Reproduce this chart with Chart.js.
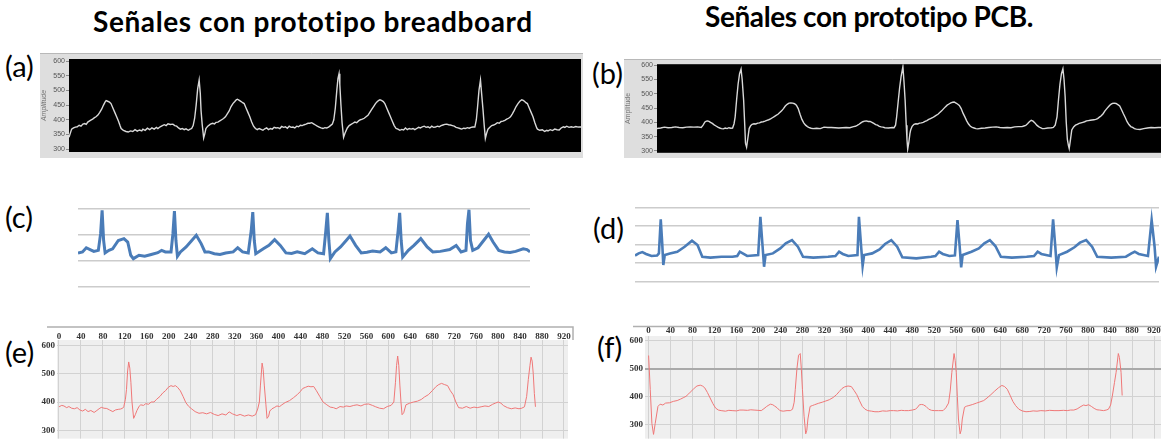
<!DOCTYPE html>
<html lang="es">
<head>
<meta charset="utf-8">
<title>Señales con prototipo breadboard y PCB</title>
<script src="https://cdn.jsdelivr.net/npm/chart.js@4.4.1/dist/chart.umd.min.js"></script>
<style>
  html, body { margin: 0; padding: 0; background: #fff; }
  body { width: 1161px; height: 446px; position: relative; overflow: hidden; font-family: Lato, 'Liberation Sans', sans-serif; }
  .title { position: absolute; font-weight: 700; font-size: 28px; line-height: 32px; white-space: nowrap; color: #000; }
  .tag { position: absolute; font-size: 29px; line-height: 32px; color: #000; }
  .panel { position: absolute; }
</style>
</head>
<body>
<div class="title" style="left:93px; top:5px; letter-spacing:0.6px">Señales con prototipo breadboard</div>
<div class="title" style="left:705px; top:0px; letter-spacing:-0.4px">Señales con prototipo PCB.</div>
<div class="tag" style="left:5px; top:50px">(a)</div>
<div class="tag" style="left:592px; top:57px">(b)</div>
<div class="tag" style="left:5px; top:201px">(c)</div>
<div class="tag" style="left:593px; top:212px">(d)</div>
<div class="tag" style="left:5px; top:336px">(e)</div>
<div class="tag" style="left:597px; top:331px">(f)</div>

<div class="panel" style="left:40px; top:53px; width:543px; height:105px"><canvas id="chartA"></canvas></div>
<div class="panel" style="left:624px; top:59px; width:537px; height:99px"><canvas id="chartB"></canvas></div>
<div class="panel" style="left:78px; top:203px; width:452px; height:90px"><canvas id="chartC"></canvas></div>
<div class="panel" style="left:635px; top:202px; width:524px; height:86px"><canvas id="chartD"></canvas></div>
<div class="panel" style="left:34px; top:324px; width:541px; height:122px"><canvas id="chartE"></canvas></div>
<div class="panel" style="left:626px; top:323px; width:535px; height:123px"><canvas id="chartF"></canvas></div>

<script>
// ── Datos ──
// (a) breadboard, LabVIEW: muestra vs amplitud
const aTime = [0, 4, 7, 12, 17, 22, 27, 32, 37, 42, 46, 50, 57, 63, 68, 72, 77, 82, 87, 92, 96, 99, 103, 108, 112, 117, 122, 127, 132, 136, 139, 145, 152, 158, 164, 170, 176, 182, 188, 194, 197, 203, 209, 215, 221, 227, 233, 237, 243, 249, 254, 259, 264, 270, 277, 282, 287, 292, 297, 302, 307, 312, 318, 323, 327, 331, 335, 339, 343, 347, 350, 352, 355, 359, 362, 365, 370, 377, 383, 388, 392, 397, 402, 407, 412, 417, 422, 427, 432, 437, 442, 446, 449, 454, 459, 463, 467, 472, 477, 482, 487, 492, 497, 502, 507, 512, 517, 522, 527, 532, 537, 542, 547, 552, 557, 562, 567, 572, 577, 582, 587, 592, 597, 602, 607, 612, 617, 622, 627, 632, 637, 642, 647, 652, 657, 662, 667, 672, 677, 682, 687, 692, 697, 702, 706, 710, 714, 717, 720, 722, 725, 728, 732, 736, 742, 747, 752, 757, 762, 767, 772, 777, 782, 787, 792, 797, 802, 807, 812, 817, 822, 826, 829, 833, 838, 842, 847, 852, 857, 862, 867, 872, 877, 882, 887, 892, 897, 902, 907, 912, 917, 922, 927, 932, 937, 942, 947, 952, 957, 962, 967, 972, 977, 982, 987, 992, 997, 1002, 1007, 1012, 1017, 1022, 1027, 1032, 1037, 1042, 1047, 1052, 1057, 1062, 1067, 1072, 1077, 1082, 1086, 1089, 1093, 1097, 1100, 1104, 1107, 1110, 1113, 1117, 1122, 1127, 1132, 1137, 1142, 1147, 1152, 1157, 1162, 1167, 1172, 1177, 1182, 1187, 1192, 1197, 1202, 1207, 1211, 1215, 1218, 1222, 1227, 1232, 1237, 1242, 1247, 1249, 1255, 1262, 1268, 1274, 1277, 1283, 1289, 1295, 1301, 1307, 1312, 1318, 1322, 1327, 1333, 1339, 1345, 1351, 1358, 1365];
const aAmp = [340, 356, 368, 372, 375, 376, 381, 378, 385, 387, 384, 392, 398, 402, 407, 410, 416, 425, 436, 450, 460, 465, 463, 460, 455, 440, 425, 410, 395, 380, 370, 364, 360, 358, 362, 360, 366, 361, 365, 362, 368, 364, 371, 366, 372, 368, 374, 370, 376, 380, 383, 380, 386, 384, 385, 380, 378, 372, 368, 370, 366, 369, 364, 368, 370, 380, 405, 450, 505, 535, 490, 432, 385, 338, 352, 370, 378, 385, 388, 386, 391, 392, 396, 400, 404, 410, 420, 430, 445, 455, 462, 468, 470, 466, 462, 458, 455, 440, 425, 410, 392, 378, 370, 366, 370, 367, 364, 369, 372, 366, 370, 368, 374, 372, 373, 370, 377, 374, 376, 371, 378, 374, 375, 372, 378, 376, 381, 380, 383, 385, 388, 388, 390, 386, 382, 378, 375, 372, 370, 373, 372, 375, 380, 385, 400, 440, 500, 540, 557, 520, 450, 390, 340, 355, 372, 380, 384, 388, 392, 390, 396, 400, 402, 405, 410, 415, 425, 435, 445, 455, 462, 466, 468, 466, 462, 455, 440, 425, 410, 395, 380, 370, 368, 364, 367, 365, 372, 366, 370, 368, 370, 366, 370, 374, 372, 376, 378, 374, 376, 372, 378, 374, 375, 378, 376, 380, 382, 384, 385, 383, 382, 380, 378, 374, 372, 370, 368, 371, 370, 373, 371, 374, 375, 375, 400, 440, 500, 535, 490, 430, 380, 336, 352, 368, 374, 380, 382, 385, 390, 388, 394, 395, 398, 402, 405, 410, 420, 432, 445, 455, 463, 468, 466, 462, 458, 455, 440, 425, 410, 390, 372, 368, 364, 366, 360, 364, 362, 366, 363, 368, 366, 365, 372, 376, 374, 378, 374, 376, 374, 377, 375, 375];

// (b) PCB, LabVIEW
const bTime = [0, 10, 20, 30, 40, 50, 60, 70, 80, 90, 100, 110, 120, 125, 130, 134, 137, 141, 145, 150, 155, 160, 165, 170, 175, 180, 185, 190, 195, 200, 205, 209, 212, 216, 220, 224, 228, 231, 235, 238, 240, 243, 246, 250, 254, 258, 263, 268, 273, 278, 283, 288, 293, 298, 303, 308, 313, 318, 323, 328, 333, 338, 343, 348, 353, 358, 363, 368, 373, 378, 383, 388, 393, 398, 403, 408, 413, 418, 423, 433, 443, 453, 463, 473, 483, 493, 503, 513, 523, 533, 538, 543, 548, 553, 558, 563, 568, 573, 578, 583, 588, 593, 598, 603, 608, 613, 618, 628, 638, 643, 647, 650, 654, 658, 662, 667, 670, 673, 676, 678, 680, 683, 686, 688, 692, 697, 702, 707, 712, 717, 722, 727, 732, 737, 742, 747, 752, 757, 762, 767, 772, 777, 782, 787, 792, 797, 802, 806, 810, 815, 820, 825, 830, 835, 840, 845, 850, 855, 860, 865, 870, 880, 890, 900, 910, 920, 930, 940, 950, 960, 970, 980, 990, 995, 1000, 1005, 1010, 1015, 1020, 1025, 1030, 1035, 1040, 1045, 1050, 1060, 1070, 1075, 1080, 1085, 1089, 1093, 1097, 1101, 1104, 1107, 1110, 1113, 1116, 1118, 1121, 1125, 1130, 1135, 1140, 1145, 1150, 1155, 1160, 1165, 1170, 1175, 1180, 1185, 1190, 1195, 1200, 1205, 1210, 1215, 1220, 1225, 1230, 1235, 1240, 1245, 1250, 1255, 1260, 1265, 1270, 1275, 1280, 1285, 1290, 1295, 1300, 1310, 1320, 1330, 1340, 1350, 1360, 1367];
const bAmp = [378, 380, 383, 381, 382, 384, 382, 381, 383, 384, 383, 384, 382, 390, 401, 404, 405, 403, 400, 396, 391, 387, 383, 380, 378, 377, 380, 378, 381, 379, 380, 395, 419, 480, 534, 570, 586, 550, 477, 390, 327, 313, 340, 378, 388, 393, 395, 394, 397, 398, 401, 402, 404, 407, 409, 412, 416, 420, 424, 428, 434, 440, 448, 457, 463, 467, 468, 467, 465, 460, 448, 428, 410, 398, 390, 385, 381, 379, 378, 379, 378, 383, 382, 382, 381, 380, 381, 382, 381, 385, 386, 389, 393, 398, 402, 404, 405, 403, 403, 400, 396, 392, 390, 386, 384, 383, 381, 380, 382, 381, 390, 419, 470, 520, 560, 595, 540, 477, 390, 340, 306, 330, 360, 373, 386, 393, 395, 394, 397, 398, 400, 403, 406, 410, 413, 416, 420, 424, 428, 434, 440, 447, 454, 460, 464, 468, 470, 471, 468, 464, 459, 448, 432, 419, 405, 394, 386, 382, 380, 378, 377, 379, 380, 382, 383, 384, 382, 381, 382, 381, 384, 385, 385, 387, 389, 395, 402, 407, 404, 398, 390, 385, 381, 378, 378, 380, 381, 382, 390, 419, 480, 534, 570, 587, 550, 490, 400, 340, 318, 308, 335, 373, 384, 390, 393, 396, 398, 400, 402, 405, 406, 407, 408, 409, 410, 413, 418, 423, 430, 440, 448, 455, 462, 466, 467, 466, 462, 457, 444, 430, 417, 402, 392, 385, 382, 378, 376, 375, 378, 380, 382, 381, 382, 382];

// (c) breadboard, Excel: nivel relativo a la rejilla
const cTime = [0, 12, 22, 32, 42, 54, 60, 64, 68, 72, 82, 92, 107, 122, 132, 140, 147, 162, 177, 192, 212, 222, 232, 247, 252, 256, 260, 264, 272, 287, 302, 314, 327, 337, 347, 362, 377, 392, 412, 424, 437, 452, 460, 464, 468, 472, 492, 507, 522, 537, 552, 567, 582, 602, 622, 637, 652, 658, 662, 666, 670, 682, 697, 712, 722, 737, 752, 767, 782, 802, 817, 832, 844, 850, 854, 858, 862, 877, 892, 910, 927, 942, 962, 987, 1004, 1017, 1030, 1034, 1038, 1042, 1048, 1062, 1077, 1090, 1102, 1117, 1132, 1147, 1162, 1182, 1192, 1200];
const cLevel = [1.31, 1.35, 1.51, 1.44, 1.37, 1.41, 2.05, 2.95, 1.79, 1.31, 1.41, 1.47, 1.79, 1.86, 1.73, 1.22, 1.09, 1.22, 1.18, 1.24, 1.32, 1.41, 1.35, 1.35, 2.05, 2.92, 1.79, 1.18, 1.35, 1.54, 1.79, 1.99, 1.67, 1.35, 1.35, 1.28, 1.25, 1.31, 1.35, 1.51, 1.35, 1.31, 2.18, 2.88, 1.79, 1.28, 1.47, 1.60, 1.82, 1.60, 1.31, 1.29, 1.35, 1.28, 1.47, 1.31, 1.28, 2.18, 2.85, 1.79, 1.09, 1.35, 1.54, 1.79, 1.96, 1.60, 1.31, 1.34, 1.38, 1.35, 1.51, 1.31, 1.35, 2.18, 2.85, 1.79, 1.15, 1.41, 1.60, 1.86, 1.54, 1.35, 1.37, 1.44, 1.60, 1.35, 1.41, 2.44, 2.97, 1.79, 1.41, 1.51, 1.79, 2.03, 1.73, 1.41, 1.35, 1.33, 1.37, 1.47, 1.44, 1.35];

// (d) PCB, Excel
const dTime = [0, 10, 20, 30, 45, 60, 65, 70, 74, 77, 81, 95, 115, 135, 155, 170, 183, 205, 235, 265, 278, 285, 293, 305, 335, 341, 347, 351, 355, 375, 395, 410, 427, 443, 457, 485, 525, 545, 555, 565, 580, 605, 609, 615, 619, 623, 645, 665, 680, 697, 713, 727, 765, 805, 817, 827, 837, 855, 870, 877, 883, 887, 891, 915, 935, 950, 965, 980, 995, 1025, 1065, 1085, 1095, 1105, 1130, 1137, 1143, 1147, 1153, 1175, 1195, 1210, 1227, 1243, 1257, 1295, 1335, 1350, 1359, 1370, 1395, 1405, 1413, 1417, 1425];
const dLevel = [1.41, 1.53, 1.60, 1.50, 1.39, 1.41, 1.53, 3.37, 2.07, 0.90, 1.44, 1.53, 1.62, 1.89, 2.22, 1.98, 1.35, 1.30, 1.35, 1.35, 1.39, 1.62, 1.53, 1.39, 1.44, 3.51, 1.89, 0.81, 1.44, 1.53, 1.80, 2.07, 2.25, 1.89, 1.35, 1.30, 1.35, 1.39, 1.62, 1.50, 1.39, 1.44, 3.51, 1.89, 0.85, 1.44, 1.53, 1.75, 2.04, 2.25, 1.89, 1.32, 1.26, 1.35, 1.39, 1.62, 1.50, 1.39, 1.42, 3.33, 1.89, 0.77, 1.44, 1.62, 1.80, 2.07, 2.25, 1.93, 1.35, 1.30, 1.35, 1.39, 1.62, 1.50, 1.39, 3.37, 1.89, 0.77, 1.44, 1.62, 1.86, 2.11, 2.25, 1.89, 1.35, 1.30, 1.35, 1.53, 1.62, 1.50, 1.39, 3.33, 1.89, 0.81, 1.35];

// (e) breadboard, osciloscopio software
const eTime = [0, 5, 9, 14, 18, 23, 28, 33, 38, 43, 48, 53, 58, 64, 69, 73, 77, 82, 87, 92, 98, 103, 108, 112, 116, 118, 121, 123, 125, 127, 129, 131, 133, 136, 139, 142, 146, 149, 154, 158, 163, 168, 173, 178, 184, 189, 194, 199, 204, 208, 212, 216, 221, 226, 231, 236, 242, 248, 255, 262, 269, 276, 283, 290, 297, 304, 310, 316, 324, 330, 338, 345, 352, 358, 362, 365, 367, 370, 372, 374, 377, 379, 382, 384, 388, 392, 397, 402, 406, 412, 420, 427, 434, 440, 444, 449, 454, 459, 464, 469, 475, 481, 488, 494, 500, 505, 512, 518, 523, 530, 537, 543, 550, 557, 564, 571, 577, 584, 591, 598, 605, 610, 613, 615, 617, 619, 621, 623, 625, 628, 632, 639, 646, 653, 660, 666, 673, 680, 687, 692, 697, 702, 708, 713, 718, 723, 728, 735, 742, 749, 756, 762, 769, 776, 783, 790, 795, 800, 805, 810, 817, 824, 831, 838, 843, 848, 852, 855, 858, 860, 862, 864, 866, 868];
const eVal = [383, 388, 386, 380, 384, 378, 376, 380, 372, 368, 374, 366, 370, 363, 370, 376, 381, 378, 377, 372, 366, 372, 374, 375, 378, 383, 410, 445, 510, 542, 520, 470, 400, 342, 355, 370, 385, 390, 388, 394, 392, 400, 400, 410, 420, 432, 440, 452, 458, 455, 458, 452, 440, 420, 398, 385, 375, 366, 360, 362, 358, 363, 356, 352, 358, 354, 365, 358, 352, 356, 350, 354, 350, 355, 375, 400, 460, 538, 515, 460, 390, 342, 350, 368, 376, 380, 386, 384, 390, 398, 405, 415, 426, 438, 448, 452, 456, 454, 455, 440, 420, 400, 390, 382, 380, 376, 384, 382, 386, 384, 388, 390, 386, 392, 393, 388, 383, 378, 376, 384, 388, 400, 470, 530, 563, 530, 460, 400, 355, 362, 390, 396, 400, 403, 409, 418, 426, 440, 455, 462, 466, 462, 458, 440, 426, 400, 380, 378, 384, 378, 382, 380, 383, 386, 384, 392, 396, 400, 396, 387, 380, 376, 379, 376, 378, 383, 420, 480, 530, 559, 545, 500, 430, 383];

// (f) PCB, osciloscopio software
const fTime = [0, 3, 6, 9, 12, 17, 21, 26, 31, 38, 45, 52, 58, 63, 68, 73, 78, 83, 88, 94, 98, 102, 107, 112, 117, 122, 127, 132, 140, 146, 152, 160, 166, 172, 180, 186, 192, 199, 205, 210, 215, 219, 222, 226, 229, 234, 239, 245, 252, 258, 262, 265, 267, 270, 273, 276, 278, 280, 283, 286, 288, 290, 294, 298, 302, 309, 316, 322, 329, 336, 342, 347, 352, 357, 363, 369, 374, 379, 384, 389, 394, 399, 406, 412, 419, 426, 433, 440, 446, 453, 460, 466, 473, 480, 486, 490, 493, 497, 500, 505, 510, 515, 520, 528, 536, 541, 546, 549, 552, 556, 558, 560, 562, 564, 567, 569, 571, 575, 579, 583, 590, 597, 603, 610, 616, 623, 630, 637, 643, 648, 653, 658, 663, 668, 674, 680, 687, 694, 700, 707, 714, 722, 730, 738, 747, 755, 762, 768, 774, 780, 787, 792, 796, 801, 806, 811, 816, 821, 828, 833, 837, 841, 844, 848, 851, 855, 857, 860, 862];
const fVal = [547, 426, 304, 265, 304, 365, 373, 370, 377, 378, 383, 386, 391, 396, 401, 410, 420, 430, 438, 441, 438, 432, 415, 395, 375, 359, 352, 350, 348, 351, 350, 349, 352, 352, 351, 353, 352, 351, 350, 357, 365, 370, 373, 371, 367, 360, 350, 348, 350, 350, 355, 380, 426, 500, 548, 554, 500, 426, 330, 267, 280, 320, 365, 368, 371, 376, 380, 384, 389, 397, 407, 418, 429, 435, 438, 436, 422, 407, 385, 365, 355, 350, 348, 346, 346, 349, 348, 350, 350, 349, 351, 350, 350, 352, 355, 363, 371, 372, 371, 365, 355, 351, 350, 350, 350, 360, 377, 420, 487, 554, 530, 487, 400, 320, 267, 280, 320, 362, 366, 368, 372, 377, 381, 386, 395, 407, 420, 432, 440, 436, 426, 405, 383, 368, 355, 349, 346, 347, 349, 348, 350, 349, 351, 350, 350, 351, 350, 352, 352, 356, 365, 370, 368, 371, 365, 358, 353, 352, 350, 352, 355, 370, 401, 450, 487, 554, 540, 487, 404];

// Marcas de los ejes
const ampTicks = [300, 350, 400, 450, 500, 550, 600];
const levelsC = [0, 1, 2, 3];
const levelsD = [0, 1, 2, 3, 4];
const sampleTicks = [0, 40, 80, 120, 160, 200, 240, 280, 320, 360, 400, 440, 480, 520, 560, 600, 640, 680, 720, 760, 800, 840, 880, 920];
const valueTicks = [300, 400, 500, 600];

// ── Fondo / marco de cada panel ──
const panelBg = {
    id: 'panelBg',
    beforeDraw(chart, args, opts) {
        const { ctx, chartArea: a, width, height } = chart;
        ctx.save();
        if (opts.outer) { ctx.fillStyle = opts.outer; ctx.fillRect(0, 0, width, height); }
        if (opts.inner) { ctx.fillStyle = opts.inner; ctx.fillRect(a.left, a.top, a.right - a.left, a.bottom - a.top); }
        if (opts.frame) {
            const f = opts.frame;
            ctx.strokeStyle = f.color; ctx.lineWidth = f.width;
            ctx.beginPath();
            ctx.moveTo(f.x0, f.y); ctx.lineTo(f.x1, f.y);
            if (f.drop) ctx.lineTo(f.x1, f.y + f.drop);
            ctx.stroke();
        }
        ctx.restore();
    }
};
Chart.register(panelBg);

const pts = (xs, ys) => xs.map((x, i) => ({ x, y: ys[i] }));
const fixTicks = (list) => (s) => { s.ticks = list.map(v => ({ value: v })); };

function makeChart(id, cfg) {
    return new Chart(document.getElementById(id), {
        type: 'line',
        data: { datasets: [{ data: cfg.data, borderColor: cfg.color, borderWidth: cfg.lineWidth, pointRadius: 0, tension: 0 }] },
        options: {
            responsive: true, maintainAspectRatio: false, animation: false, events: [],
            layout: { padding: cfg.padding },
            plugins: { legend: { display: false }, tooltip: { enabled: false }, panelBg: cfg.bg },
            scales: { x: cfg.x, y: cfg.y },
        },
    });
}

// ── LabVIEW (a, b) ──
function labviewY(width, min, max, italic) {
    return {
        type: 'linear', min, max,
        afterBuildTicks: fixTicks(ampTicks),
        afterFit: (s) => { s.width = width; },
        ticks: { color: '#555', font: { family: 'Liberation Sans', size: 7 }, padding: 1 },
        grid: { drawOnChartArea: false, tickLength: 3, color: '#8a8a8a' },
        border: { display: false },
        title: { display: true, text: 'Amplitude', color: '#777', padding: { top: 0, bottom: 2 },
                 font: { family: 'Liberation Sans', size: 7, style: italic ? 'italic' : 'normal' } },
    };
}

makeChart('chartA', {
    data: pts(aTime, aAmp), color: '#d8d8d8', lineWidth: 1.4,
    padding: { top: 6, right: 2, bottom: 6, left: 0 },
    bg: { outer: '#dedede', inner: '#000', frame: { x0: 0, x1: 543, y: 0.5, color: '#b8b8b8', width: 1 } },
    x: { type: 'linear', min: 0, max: 1365, display: false },
    y: labviewY(29, 290, 607, true),
});

makeChart('chartB', {
    data: pts(bTime, bAmp), color: '#d8d8d8', lineWidth: 1.4,
    padding: { top: 4, right: 0, bottom: 4, left: 0 },
    bg: { outer: '#dedede', inner: '#000', frame: { x0: 0, x1: 537, y: 0.5, color: '#b8b8b8', width: 1 } },
    x: { type: 'linear', min: 0, max: 1367, display: false },
    y: labviewY(33, 293.2, 603.4, false),
});

// ── Excel (c, d) ──
function excelY(levels, max) {
    return {
        type: 'linear', min: 0, max,
        afterBuildTicks: fixTicks(levels),
        afterFit: (s) => { s.width = 0; },
        ticks: { display: false },
        grid: { color: '#cccccc', lineWidth: 1.6, drawTicks: false },
        border: { display: false },
    };
}

makeChart('chartC', {
    data: pts(cTime, cLevel), color: '#4a7cb8', lineWidth: 3,
    padding: { top: 6, right: 0, bottom: 6, left: 0 },
    bg: {},
    x: { type: 'linear', min: 0, max: 1200, display: false },
    y: excelY(levelsC, 3),
});

makeChart('chartD', {
    data: pts(dTime, dLevel), color: '#4a7cb8', lineWidth: 2.6,
    padding: { top: 5.7, right: 0, bottom: 6.3, left: 0 },
    bg: {},
    x: { type: 'linear', min: 0, max: 1425, display: false },
    y: excelY(levelsD, 4),
});

// ── Osciloscopio (e, f) ──
const serif = { family: 'Liberation Serif', size: 9, weight: 'bold' };
function scopeX(height, min, max, pad) {
    return {
        type: 'linear', position: 'top', min, max,
        afterBuildTicks: fixTicks(sampleTicks),
        afterFit: (s) => { s.height = height; },
        ticks: { color: '#333', font: serif, padding: pad, maxRotation: 0, autoSkip: false },
        grid: { color: '#d2d2d2', drawTicks: false },
        border: { display: false },
    };
}
function scopeY(width, min, max, strong) {
    return {
        type: 'linear', min, max,
        afterBuildTicks: fixTicks(valueTicks),
        afterFit: (s) => { s.width = width; },
        ticks: { color: '#333', font: serif, padding: 2 },
        grid: {
            drawTicks: false,
            color: (c) => (c.tick && c.tick.value === strong ? '#a9a9a9' : '#d2d2d2'),
            lineWidth: (c) => (c.tick && c.tick.value === strong ? 2 : 1),
        },
        border: { display: false },
    };
}

makeChart('chartE', {
    data: pts(eTime, eVal), color: '#f07878', lineWidth: 1,
    padding: { top: 0, right: 7, bottom: 0, left: 0 },
    bg: { inner: '#efefef', frame: { x0: 13, x1: 539, y: 3, drop: 13, color: '#b0b0b0', width: 1.5 } },
    x: scopeX(16, -3.64, 927.3, -2),
    y: scopeY(23, 270.3, 619.8, null),
});

makeChart('chartF', {
    data: pts(fTime, fVal), color: '#f07878', lineWidth: 1,
    padding: { top: 0, right: 0, bottom: 0, left: 0 },
    bg: { inner: '#efefef', frame: { x0: 7, x1: 535, y: 3.5, color: '#b0b0b0', width: 1.5 } },
    x: scopeX(13, -6.55, 932.7, 0),
    y: scopeY(19, 250, 616.7, 500),
});
</script>
</body>
</html>
